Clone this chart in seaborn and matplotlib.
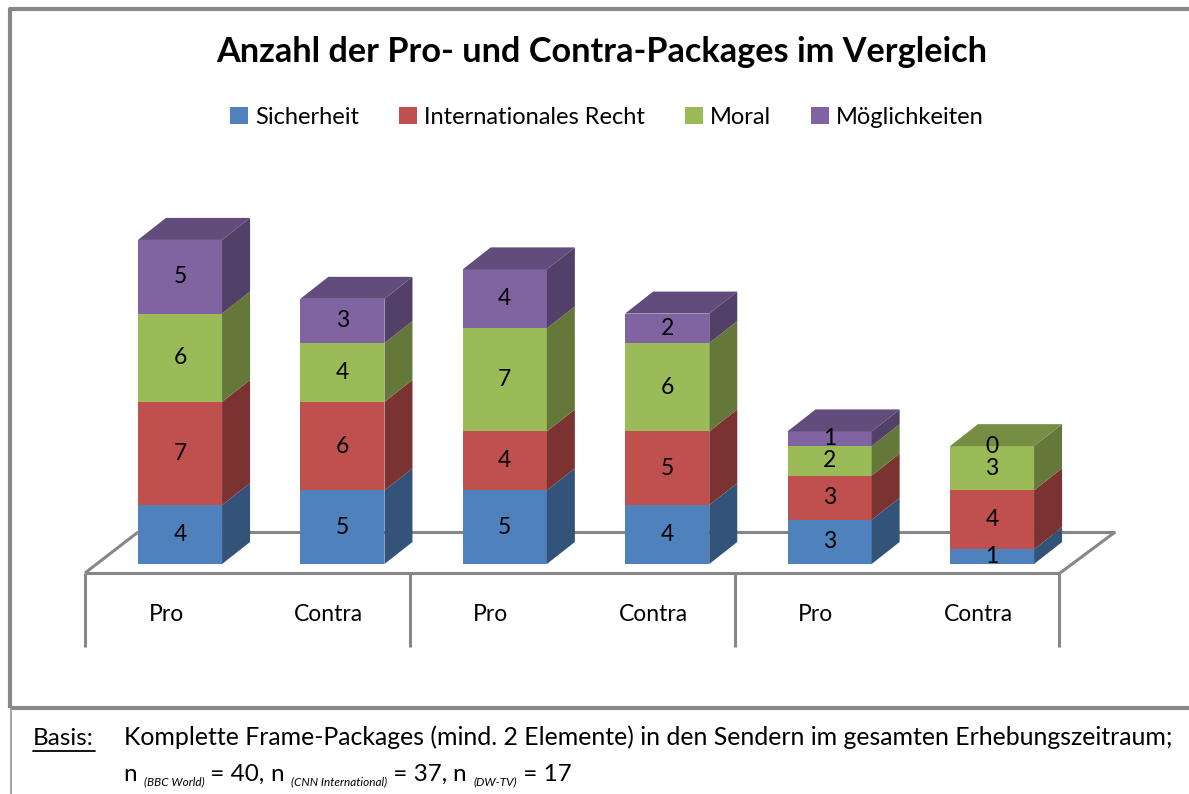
import numpy as np
import pandas as pd
import matplotlib
matplotlib.use("Agg")
import matplotlib.pyplot as plt
import seaborn as sns
from matplotlib.patches import Polygon, Patch
from matplotlib.colors import to_rgb

# --- Daten ---
sender = ["BBC World", "BBC World", "CNN International", "CNN International", "DW-TV", "DW-TV"]
bar_labels = ["Pro", "Contra", "Pro", "Contra", "Pro", "Contra"]
series = ["Sicherheit", "Internationales Recht", "Moral", "Möglichkeiten"]
sicherheit = [4, 5, 5, 4, 3, 1]
recht = [7, 6, 4, 5, 3, 4]
moral = [6, 4, 7, 6, 2, 3]
moeglichkeiten = [5, 3, 4, 2, 1, 0]
colors = ["#4F81BD", "#C0504D", "#9BBB59", "#8064A2"]

title = "Anzahl der Pro- und Contra-Packages im Vergleich"
basis = "Komplette Frame-Packages (mind. 2 Elemente) in den Sendern im gesamten Erhebungszeitraum;"
n_werte = [("BBC World", 40), ("CNN International", 37), ("DW-TV", 17)]

# long-form table for seaborn
ids = [f"{s} {l}" for s, l in zip(sender, bar_labels)]
werte = [sicherheit, recht, moral, moeglichkeiten]
rows = []
unten = np.zeros(len(ids))
for name, vals in zip(series, werte):
    for i, v in enumerate(vals):
        rows.append({"balken": ids[i], "serie": name, "wert": v, "unten": unten[i]})
    unten = unten + np.array(vals)
df = pd.DataFrame(rows)

FONT = "Lato"
GRAU = "#878787"

sns.set_theme(style="white")
plt.rcParams["font.family"] = [FONT, "DejaVu Sans"]
plt.rcParams["text.color"] = "black"

fig = plt.figure(figsize=(11.89, 7.94), dpi=100)

# overlay in pixel coordinates for frame + footnote
ov = fig.add_axes([0, 0, 1, 1])
ov.set_xlim(0, 1189)
ov.set_ylim(794, 0)
ov.axis("off")

# main axes: bar positions 0..5, y = counts
ax = fig.add_axes([98.8 / 1189, 230 / 794, 974.4 / 1189, 383 / 794])
for name, col in zip(series, colors):
    sub = df[df["serie"] == name]
    sns.barplot(data=sub, x="balken", y="wert", order=ids, bottom=sub["unten"].values,
                color=col, saturation=1, width=0.518, errorbar=None,
                linewidth=0, ax=ax, zorder=3)
ax.set_xlim(-0.5, 5.5)
ax.set_ylim(0, 26)
ax.axis("off")

# depth of the 3D bars in data units
tx, ty = 28 / 162.4, 22 / 14.73
totals = unten


def dunkel(c, f):
    r, g, b = to_rgb(c)
    return (r * f, g * f, b * f)


for p in ax.patches:
    x0, y0, w, h = p.get_x(), p.get_y(), p.get_width(), p.get_height()
    fc = p.get_facecolor()
    x1, y1 = x0 + w, y0 + h
    side = Polygon([(x1, y0), (x1 + tx, y0 + ty), (x1 + tx, y1 + ty), (x1, y1)],
                   closed=True, fc=dunkel(fc, 0.64), ec="none", zorder=3)
    ax.add_patch(side)
    i = int(round(x0 + w / 2))
    if h > 0 and abs(y1 - totals[i]) < 1e-9:
        top = Polygon([(x0, y1), (x0 + tx, y1 + ty), (x1 + tx, y1 + ty), (x1, y1)],
                      closed=True, fc=dunkel(fc, 0.76), ec="none", zorder=3)
        ax.add_patch(top)
    ax.text(x0 + w / 2, y0 + h / 2, f"{h:.0f}", ha="center", va="center",
            fontsize=16.5, color="black", zorder=5)

# floor (Excel-style 3D base)
fy0, fy1 = -0.61, 2.17
fxl0, fxr0 = -0.585, 5.419
fd = 0.327
floor_kw = dict(color=GRAU, lw=2.2, clip_on=False, zorder=1, solid_capstyle="butt")
ax.plot([fxl0, fxr0], [fy0, fy0], **floor_kw)
ax.plot([fxl0 + fd, fxr0 + fd + 0.012], [fy1, fy1], **floor_kw)
ax.plot([fxl0, fxl0 + fd], [fy0, fy1], **floor_kw)
ax.plot([fxr0, fxr0 + fd + 0.012], [fy0, fy1], **floor_kw)

# category table below the floor
for k in range(4):
    ax.plot([fxl0 + 2 * k, fxl0 + 2 * k], [fy0, -5.63], **floor_kw)
for i, lab in enumerate(bar_labels):
    ax.text(i - 0.085, -3.46, lab, ha="center", va="center", fontsize=16.5,
            clip_on=False)

# title + legend
fig.text(601.5 / 1189, 1 - 52 / 794, title, ha="center", va="center",
         fontsize=24.7, fontweight="bold")
handles = [Patch(fc=c, ec="none") for c in colors]
fig.legend(handles, series, loc="center", bbox_to_anchor=(607 / 1189, 1 - 117 / 794),
           ncol=4, frameon=False, fontsize=17, handlelength=0.75, handleheight=0.75,
           handletextpad=0.3, columnspacing=1.7)

# frame of the chart area and footnote box
ov.plot([9.5, 9.5, 1189], [708, 8.5, 8.5], color=GRAU, lw=3, solid_capstyle="butt")
ov.plot([9.5, 1189], [708, 708], color=GRAU, lw=3, solid_capstyle="butt")
ov.plot([10.5, 10.5], [709, 794], color="#a6a6a6", lw=1.5)

# footnote
r = fig.canvas.get_renderer()
ov.text(33, 745, "Basis:", fontsize=17.5, va="baseline")
ov.plot([33, 95], [751, 751], color="black", lw=1.3)
ov.text(124, 745, basis, fontsize=17.9, va="baseline")

x = 124
for j, (name, n) in enumerate(n_werte):
    teile = [("n ", dict(fontsize=17.5), 0),
             (f"({name})", dict(fontsize=8.5, style="italic"), 4),
             (f" = {n}" + (", " if j < len(n_werte) - 1 else ""), dict(fontsize=17.5), 0)]
    for s, kw, dy in teile:
        t = ov.text(x, 781 + dy, s, va="baseline", **kw)
        x = t.get_window_extent(r).x1

fig.savefig("out.png", dpi=100)
